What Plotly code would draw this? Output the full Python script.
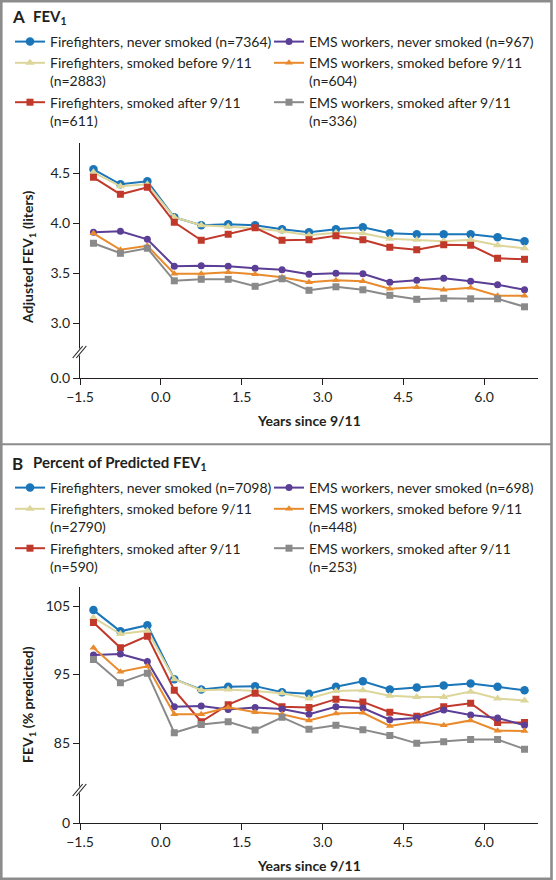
import plotly.graph_objects as go

years = [-1.25, -0.75, -0.25, 0.25, 0.75, 1.25, 1.75, 2.25, 2.75, 3.25, 3.75, 4.25, 4.75, 5.25, 5.75, 6.25, 6.75]

# Panel A: adjusted FEV1 (liters)
a_ff_never = [4.54, 4.39, 4.42, 4.06, 3.98, 3.99, 3.98, 3.94, 3.91, 3.94, 3.96, 3.90, 3.89, 3.89, 3.89, 3.86, 3.82]
a_ff_before = [4.51, 4.37, 4.39, 4.06, 3.98, 3.965, 3.95, 3.92, 3.88, 3.905, 3.90, 3.845, 3.835, 3.82, 3.835, 3.78, 3.75]
a_ff_after = [4.46, 4.29, 4.36, 4.01, 3.83, 3.89, 3.955, 3.83, 3.835, 3.875, 3.835, 3.76, 3.735, 3.785, 3.78, 3.65, 3.64]
a_ems_never = [3.91, 3.92, 3.84, 3.57, 3.575, 3.57, 3.55, 3.535, 3.49, 3.50, 3.495, 3.41, 3.43, 3.45, 3.42, 3.385, 3.335]
a_ems_before = [3.90, 3.735, 3.775, 3.495, 3.495, 3.51, 3.49, 3.46, 3.41, 3.43, 3.42, 3.345, 3.36, 3.335, 3.355, 3.275, 3.275]
a_ems_after = [3.80, 3.70, 3.75, 3.425, 3.44, 3.44, 3.37, 3.445, 3.33, 3.365, 3.335, 3.28, 3.24, 3.25, 3.245, 3.245, 3.165]

# Panel B: FEV1 % predicted
b_ff_never = [104.4, 101.3, 102.2, 94.3, 92.8, 93.2, 93.3, 92.4, 92.2, 93.2, 94.0, 92.8, 93.1, 93.4, 93.7, 93.2, 92.7]
b_ff_before = [103.3, 100.9, 101.4, 94.3, 92.7, 92.8, 92.6, 92.25, 91.5, 92.6, 92.7, 91.9, 91.7, 91.7, 92.5, 91.5, 91.2]
b_ff_after = [102.6, 98.9, 100.6, 92.7, 88.1, 90.6, 92.25, 90.3, 90.2, 91.4, 91.0, 89.5, 88.9, 90.3, 90.8, 88.0, 88.0]
b_ems_never = [97.85, 98.0, 96.9, 90.3, 90.4, 89.9, 90.2, 89.95, 89.2, 90.3, 90.1, 88.4, 88.65, 89.8, 89.1, 88.65, 87.6]
b_ems_before = [98.9, 95.4, 96.2, 89.2, 89.2, 90.2, 89.5, 89.2, 88.3, 89.3, 89.4, 87.5, 88.1, 87.6, 88.3, 86.8, 86.75]
b_ems_after = [97.2, 93.8, 95.2, 86.5, 87.7, 88.1, 86.9, 88.75, 87.0, 87.6, 86.95, 86.1, 84.95, 85.2, 85.5, 85.5, 84.1]

names_a = ["Firefighters, never smoked (n=7364)", "Firefighters, smoked before 9/11<br>(n=2883)",
           "Firefighters, smoked after 9/11<br>(n=611)", "EMS workers, never smoked (n=967)",
           "EMS workers, smoked before 9/11<br>(n=604)", "EMS workers, smoked after 9/11<br>(n=336)"]
names_b = ["Firefighters, never smoked (n=7098)", "Firefighters, smoked before 9/11<br>(n=2790)",
           "Firefighters, smoked after 9/11<br>(n=590)", "EMS workers, never smoked (n=698)",
           "EMS workers, smoked before 9/11<br>(n=448)", "EMS workers, smoked after 9/11<br>(n=253)"]

x_ticks = [-1.5, 0.0, 1.5, 3.0, 4.5, 6.0]
a_yticks = [3.0, 3.5, 4.0, 4.5]
b_yticks = [85, 95, 105]

colors = ["#1a76b9", "#ddd69b", "#c0392b", "#5b3e96", "#e98a2c", "#8a8a8a"]
symbols = ["circle", "triangle-up", "square", "circle", "triangle-up", "square"]
sizes = [8.5, 8, 7, 7, 7, 7]

W, H = 556, 880
FONT = "Lato"
TXT = "#231f20"

def px(v):
    return v / W

def py(v):
    return 1 - v / H

fig = go.Figure()
series_a = [a_ff_never, a_ff_before, a_ff_after, a_ems_never, a_ems_before, a_ems_after]
series_b = [b_ff_never, b_ff_before, b_ff_after, b_ems_never, b_ems_before, b_ems_after]
for i in range(6):
    fig.add_trace(go.Scatter(x=years, y=series_a[i], name=names_a[i], mode="lines+markers",
                             line=dict(color=colors[i], width=2),
                             marker=dict(symbol=symbols[i], size=sizes[i], color=colors[i]),
                             xaxis="x", yaxis="y", legend="legend" if i < 3 else "legend2"))
for i in range(6):
    fig.add_trace(go.Scatter(x=years, y=series_b[i], name=names_b[i], mode="lines+markers",
                             line=dict(color=colors[i], width=2),
                             marker=dict(symbol=symbols[i], size=sizes[i], color=colors[i]),
                             xaxis="x3", yaxis="y3", legend="legend3" if i < 3 else "legend4"))
# empty traces so the lower "stub" subplots (below the axis break) exist
fig.add_trace(go.Scatter(x=[None], y=[None], xaxis="x2", yaxis="y2", showlegend=False, hoverinfo="skip"))
fig.add_trace(go.Scatter(x=[None], y=[None], xaxis="x4", yaxis="y4", showlegend=False, hoverinfo="skip"))

xdom = [px(80), px(538)]
ax_common = dict(showline=True, linecolor="#231f20", linewidth=1.3, ticks="outside", ticklen=6,
                 tickcolor="#231f20", tickwidth=1.2, showgrid=False, zeroline=False, automargin=False,
                 tickfont=dict(family=FONT, size=14, color=TXT))
x_hidden = dict(showline=False, ticks="", showticklabels=False, showgrid=False, zeroline=False,
                automargin=False)

# Panel A geometry (pixels)
a_top, a_break, a_bottom = 142.7, 352.0, 378.3
a_scale = 100.0  # px per liter
a_lo = 3.0 - (a_break - 323.3) / a_scale
a_hi = 3.0 + (323.3 - a_top) / a_scale
# Panel B geometry
b_top, b_break, b_bottom = 586.7, 790.0, 823.3
b_scale = 6.85
b_lo = 85 - (b_break - 743.0) / b_scale
b_hi = 105 + (606.0 - b_top) / b_scale

leg_common = dict(orientation="v", xanchor="left", yanchor="top", valign="top", traceorder="normal",
                  font=dict(family=FONT, size=14, color=TXT), bgcolor="rgba(0,0,0,0)", tracegroupgap=0)

fig.update_layout(
    template="none",
    width=W, height=H, margin=dict(l=0, r=0, t=0, b=0, autoexpand=False),
    paper_bgcolor="white", plot_bgcolor="rgba(0,0,0,0)",
    font=dict(family=FONT, color=TXT, size=14),
    # panel A
    xaxis=dict(domain=xdom, anchor="y", range=[-1.5, 7.0], **x_hidden),
    yaxis=dict(domain=[py(a_break), py(a_top)], anchor="x", range=[a_lo, a_hi], tickvals=a_yticks,
               tickformat=".1f", **ax_common),
    xaxis2=dict(domain=xdom, anchor="y2", matches="x", range=[-1.5, 7.0], tickvals=x_ticks,
                tickformat=".1f", **ax_common),
    yaxis2=dict(domain=[py(a_bottom), py(a_break)], anchor="x2", range=[0, (a_bottom - a_break) / a_scale],
                tickvals=[0], tickformat=".1f", **ax_common),
    # panel B
    xaxis3=dict(domain=xdom, anchor="y3", range=[-1.5, 7.0], **x_hidden),
    yaxis3=dict(domain=[py(b_break), py(b_top)], anchor="x3", range=[b_lo, b_hi], tickvals=b_yticks,
                **ax_common),
    xaxis4=dict(domain=xdom, anchor="y4", matches="x3", range=[-1.5, 7.0], tickvals=x_ticks,
                tickformat=".1f", **ax_common),
    yaxis4=dict(domain=[py(b_bottom), py(b_break)], anchor="x4", range=[0, (b_bottom - b_break) / b_scale],
                tickvals=[0], **ax_common),
    legend=dict(x=px(10), y=py(26), **leg_common),
    legend2=dict(x=px(269), y=py(26), **leg_common),
    legend3=dict(x=px(10), y=py(472), **leg_common),
    legend4=dict(x=px(269), y=py(472), **leg_common),
    showlegend=True,
)

annotations = [
    dict(text="<b>A</b>", x=px(10), y=py(17), xanchor="left", yanchor="middle", font=dict(size=17)),
    dict(text="<b>FEV<sub>1</sub></b>", x=px(31), y=py(17), xanchor="left", yanchor="middle", font=dict(size=15)),
    dict(text="<b>B</b>", x=px(10), y=py(463), xanchor="left", yanchor="middle", font=dict(size=17)),
    dict(text="<b>Percent of Predicted FEV<sub>1</sub></b>", x=px(31), y=py(463), xanchor="left",
         yanchor="middle", font=dict(size=15)),
    dict(text="<b>Adjusted FEV<sub>1</sub> (liters)</b>", x=px(28), y=py(258), textangle=-90,
         xanchor="center", yanchor="middle", font=dict(size=14)),
    dict(text="<b>Years since 9/11</b>", x=px(309), y=py(420), xanchor="center", yanchor="middle",
         font=dict(size=14)),
    dict(text="<b>FEV<sub>1</sub> (% predicted)</b>", x=px(28), y=py(705), textangle=-90,
         xanchor="center", yanchor="middle", font=dict(size=14)),
    dict(text="<b>Years since 9/11</b>", x=px(309), y=py(865), xanchor="center", yanchor="middle",
         font=dict(size=14)),
]
for a in annotations:
    a.update(xref="paper", yref="paper", showarrow=False)
    a["font"] = dict(family=FONT, color=TXT, size=a["font"]["size"])
fig.update_layout(annotations=annotations)

shapes = [
    dict(type="rect", x0=px(1.3), x1=px(551.5), y0=py(1.2), y1=py(878.8),
         line=dict(color="#8c8c8c", width=2.6)),
    dict(type="line", x0=px(1.3), x1=px(551.5), y0=py(444.3), y1=py(444.3),
         line=dict(color="#8c8c8c", width=2)),
]
for yb in (a_break, b_break):
    shapes.append(dict(type="line", x0=px(80), x1=px(80), y0=py(yb - 3.5), y1=py(yb + 3.5),
                       line=dict(color="white", width=4)))
    for dx in (-1.8, 1.8):
        shapes.append(dict(type="line", x0=px(74.5 + dx), x1=px(84.5 + dx), y0=py(yb + 6), y1=py(yb - 6),
                           line=dict(color="#231f20", width=1.1)))
for s in shapes:
    s.update(xref="paper", yref="paper", layer="above")
fig.update_layout(shapes=shapes)

fig.write_html("out.html", config={"displayModeBar": False},
               post_script="document.body.style.margin='0px';")
